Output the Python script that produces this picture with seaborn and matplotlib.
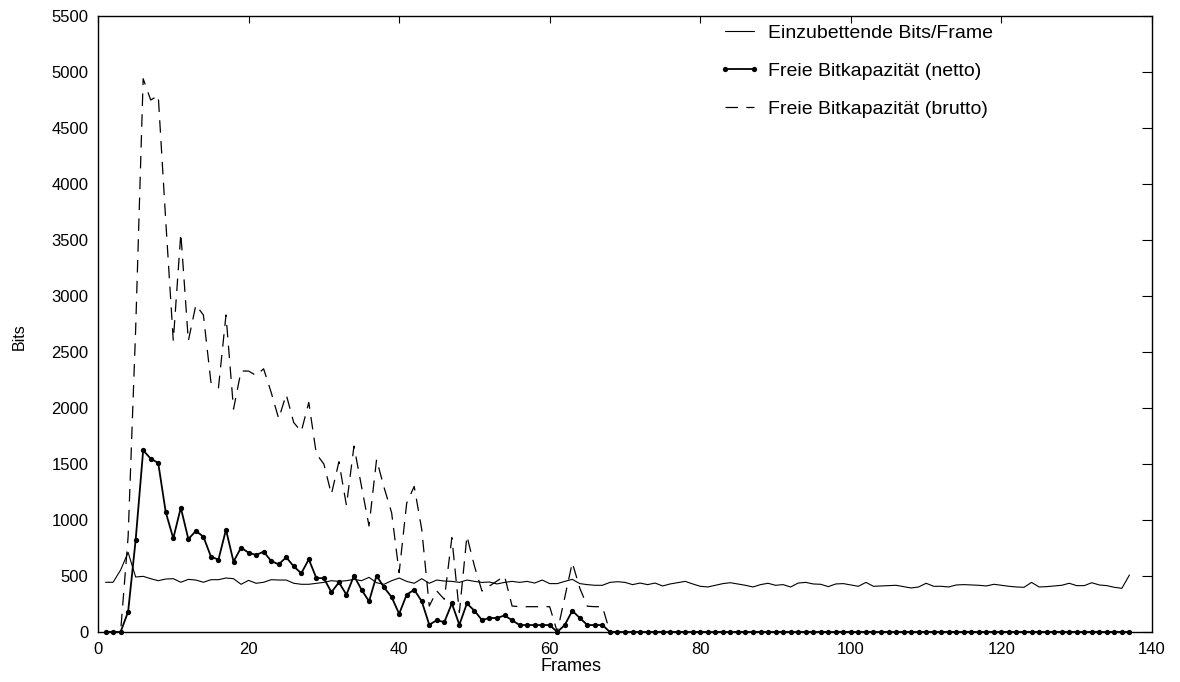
import numpy as np
import pandas as pd
import matplotlib
matplotlib.use("Agg")
import matplotlib.pyplot as plt
import seaborn as sns

# Frame index
frames = np.arange(1, 138)

# Bits to embed per frame
bits_per_frame = [
    444, 444, 553, 711, 491, 497, 476, 458, 473, 476,
    444, 470, 464, 444, 467, 467, 482, 476, 426, 461,
    435, 444, 467, 464, 464, 435, 426, 426, 435, 443,
    458, 452, 458, 470, 458, 488, 440, 426, 458, 482,
    452, 435, 476, 435, 464, 455, 452, 443, 464, 452,
    443, 446, 429, 443, 452, 443, 452, 437, 464, 432,
    432, 452, 470, 432, 423, 417, 417, 443, 449, 443,
    423, 437, 423, 437, 411, 429, 440, 452, 429, 408,
    402, 417, 432, 440, 429, 417, 402, 423, 435, 417,
    423, 402, 437, 443, 429, 426, 405, 429, 432, 420,
    408, 443, 408, 411, 414, 417, 405, 393, 402, 435,
    408, 408, 402, 420, 423, 420, 417, 411, 426, 417,
    408, 402, 399, 443, 402, 405, 411, 417, 435, 414,
    414, 440, 420, 414, 399, 390, 509,
]

# Free bit capacity, net
capacity_net = [
    0, 0, 0, 181, 821, 1622, 1548, 1509, 1069, 836,
    1110, 830, 902, 851, 673, 646, 914, 628, 753, 708,
    688, 717, 634, 604, 667, 586, 524, 649, 482, 480,
    355, 443, 333, 503, 378, 274, 503, 398, 312, 162,
    333, 378, 274, 65, 105, 88, 255, 65, 255, 190,
    107, 125, 125, 148, 105, 62, 62, 62, 62, 62,
    0, 62, 190, 125, 62, 62, 62, 0, 0, 0,
    0, 0, 0, 0, 0, 0, 0, 0, 0, 0,
    0, 0, 0, 0, 0, 0, 0, 0, 0, 0,
    0, 0, 0, 0, 0, 0, 0, 0, 0, 0,
    0, 0, 0, 0, 0, 0, 0, 0, 0, 0,
    0, 0, 0, 0, 0, 0, 0, 0, 0, 0,
    0, 0, 0, 0, 0, 0, 0, 0, 0, 0,
    0, 0, 0, 0, 0, 0, 0,
]

# Free bit capacity, gross
capacity_gross = [
    0, 0, 0, 850, 2700, 4940, 4750, 4790, 3670, 2600,
    3560, 2600, 2920, 2830, 2230, 2180, 2830, 1990, 2330, 2330,
    2290, 2350, 2140, 1905, 2120, 1870, 1790, 2050, 1590, 1500,
    1230, 1520, 1130, 1660, 1300, 946, 1540, 1290, 1065, 530,
    1150, 1300, 917, 232, 366, 292, 842, 173, 857, 589,
    366, 411, 455, 500, 232, 226, 226, 226, 226, 226,
    0, 310, 619, 390, 230, 226, 226, 0, 0, 0,
    0, 0, 0, 0, 0, 0, 0, 0, 0, 0,
    0, 0, 0, 0, 0, 0, 0, 0, 0, 0,
    0, 0, 0, 0, 0, 0, 0, 0, 0, 0,
    0, 0, 0, 0, 0, 0, 0, 0, 0, 0,
    0, 0, 0, 0, 0, 0, 0, 0, 0, 0,
    0, 0, 0, 0, 0, 0, 0, 0, 0, 0,
    0, 0, 0, 0, 0, 0, 0,
]

x_ticks = [0, 20, 40, 60, 80, 100, 120, 140]
y_ticks = [0, 500, 1000, 1500, 2000, 2500, 3000, 3500, 4000, 4500, 5000, 5500]

label_embed = "Einzubettende Bits/Frame"
label_net = "Freie Bitkapazität (netto)"
label_gross = "Freie Bitkapazität (brutto)"

sns.set_style("white")
plt.rcParams["font.family"] = ["Liberation Sans", "DejaVu Sans"]
plt.rcParams["lines.scale_dashes"] = False
plt.rcParams["text.color"] = "black"
plt.rcParams["axes.labelcolor"] = "black"
plt.rcParams["xtick.color"] = "black"
plt.rcParams["ytick.color"] = "black"

df = pd.DataFrame({
    "frame": frames,
    "embed": bits_per_frame,
    "net": capacity_net,
    "gross": capacity_gross,
})

fig = plt.figure(figsize=(11.8, 6.82), dpi=100)
ax = fig.add_axes([98 / 1180, 1 - 632 / 682, (1152 - 98) / 1180, (632 - 16) / 682])

sns.lineplot(data=df, x="frame", y="embed", ax=ax, color="black",
             linewidth=0.8, label=label_embed)
sns.lineplot(data=df, x="frame", y="net", ax=ax, color="black",
             linewidth=1.3, marker="o", markersize=3.8, markeredgewidth=0,
             label=label_net, clip_on=False, zorder=3)
sns.lineplot(data=df, x="frame", y="gross", ax=ax, color="black",
             linewidth=0.9, label=label_gross)
ax.lines[2].set_linestyle((0, (9.0, 6.0)))

ax.set_xlim(0, 140)
ax.set_ylim(0, 5500)
ax.set_xticks(x_ticks)
ax.set_yticks(y_ticks)
ax.set_xticklabels([str(t) for t in x_ticks])
ax.set_yticklabels([str(t) for t in y_ticks])

ax.tick_params(axis="both", which="major", direction="in",
               top=True, right=True, labelsize=12, color="black",
               labelcolor="black", width=0.8)
ax.tick_params(axis="x", length=5, pad=7)
ax.tick_params(axis="y", length=7, pad=7)

for side in ["left", "right", "top", "bottom"]:
    ax.spines[side].set_visible(True)
    ax.spines[side].set_color("black")
    ax.spines[side].set_linewidth(1.0)

ax.set_xlabel("Frames", fontsize=13, color="black")
ax.set_ylabel("Bits", fontsize=11.5, color="black")
ax.xaxis.set_label_coords(0.449, -0.043)
ax.yaxis.set_label_coords(-0.068, 0.479)

handles, labels = ax.get_legend_handles_labels()
leg = ax.legend(handles, labels, loc="upper left", bbox_to_anchor=(0.589, 0.986),
                frameon=False, fontsize=14, borderaxespad=0, borderpad=0,
                handlelength=2.1, handletextpad=0.45, labelspacing=1.05,
                numpoints=2)
for txt in leg.get_texts():
    txt.set_color("black")

fig.savefig("out.png", dpi=100, facecolor="white")
